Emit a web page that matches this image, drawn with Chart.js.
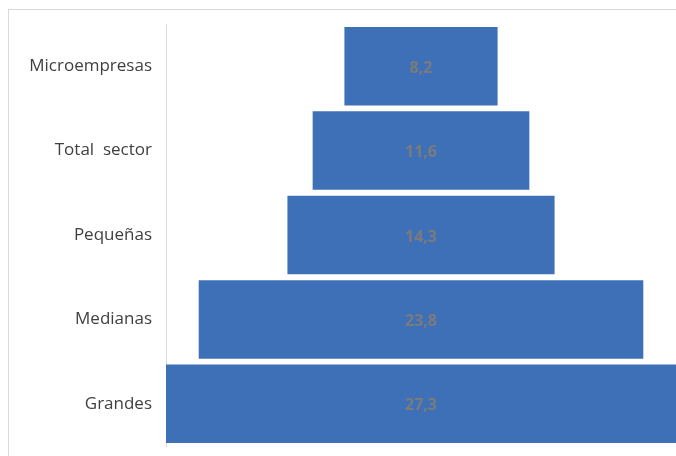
<!DOCTYPE html>
<html>
<head>
<meta charset="utf-8">
<script src="https://cdn.jsdelivr.net/npm/chart.js@4"></script>
<style>
  body { margin: 0; background: #fff; overflow: hidden; }
  #frame { position: absolute; left: 8px; top: 9px; width: 700px; height: 460px;
           border-top: 1px solid #d9d9d9; border-left: 1px solid #d9d9d9; }
  #funnel { position: absolute; left: 0; top: 0; }
</style>
</head>
<body>
<div id="frame"></div>
<canvas id="funnel" width="676" height="456"></canvas>
<script>
// Categorías y valores (%)
const categorias = ['Microempresas', 'Total  sector', 'Pequeñas', 'Medianas', 'Grandes'];
const valores = [8.2, 11.6, 14.3, 23.8, 27.3];
const etiquetas = ['8,2', '11,6', '14,3', '23,8', '27,3'];

const maxValor = Math.max(...valores);

// barras flotantes centradas (embudo)
const barras = valores.map(v => [(maxValor - v) / 2, (maxValor + v) / 2]);

// Plugin para escribir el valor en el centro de la barra
const etiquetasPlugin = {
    id: 'etiquetas',
    afterDatasetsDraw(chart) {
        const ctx = chart.ctx;
        const meta = chart.getDatasetMeta(0);
        ctx.save();
        ctx.font = 'bold 16px "Open Sans", sans-serif';
        ctx.fillStyle = '#7b7b7b';
        ctx.textAlign = 'center';
        ctx.textBaseline = 'middle';
        meta.data.forEach((bar, i) => {
            const p = bar.getProps(['x', 'base', 'y'], true);
            ctx.fillText(etiquetas[i], (p.x + p.base) / 2, p.y + 2);
        });
        ctx.restore();
    }
};

new Chart(document.getElementById('funnel'), {
    type: 'bar',
    data: {
        labels: categorias,
        datasets: [{
            data: barras,
            backgroundColor: '#3e70b8',
            borderWidth: 0,
            barPercentage: 0.93,
            categoryPercentage: 1
        }]
    },
    options: {
        indexAxis: 'y',
        responsive: false,
        animation: false,
        layout: { padding: { top: 24, bottom: 10, left: 0, right: 0 } },
        plugins: {
            legend: { display: false },
            tooltip: { enabled: false }
        },
        scales: {
            x: {
                display: false,
                min: 0,
                max: maxValor
            },
            y: {
                grid: { display: false, drawTicks: false },
                border: { display: true, color: '#d9d9d9', width: 1 },
                ticks: {
                    color: '#404040',
                    padding: 14,
                    font: { family: '"Open Sans", sans-serif', size: 17 }
                },
                afterFit(scale) {
                    scale.width = 166;
                    scale.paddingTop = 0;
                    scale.paddingBottom = 0;
                }
            }
        }
    },
    plugins: [etiquetasPlugin]
});
</script>
</body>
</html>
